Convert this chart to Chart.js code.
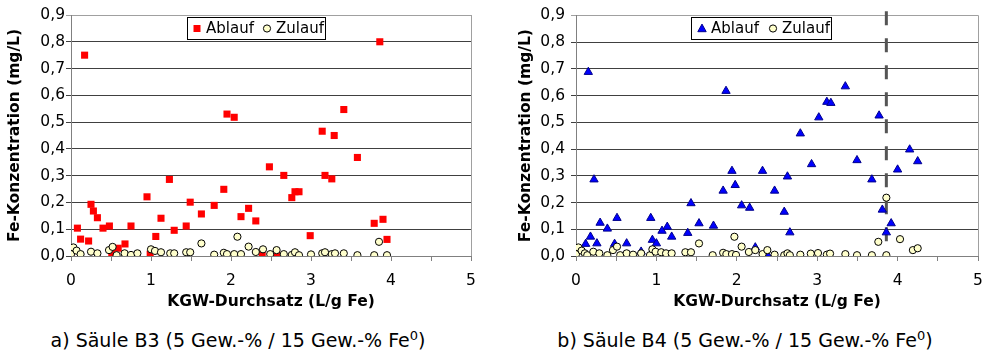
<!DOCTYPE html>
<html>
<head>
<meta charset="utf-8">
<script src="https://cdn.jsdelivr.net/npm/chart.js@4.4.0/dist/chart.umd.min.js"></script>
<style>
body { margin: 0; background: #fff; }
#wrap { position: relative; width: 989px; height: 358px; overflow: hidden; }
canvas { position: absolute; top: 0; }
.cap { position: absolute; top: 330px; font-family: "DejaVu Sans"; font-size: 19px; line-height: 20px; text-align: center; color: #000; white-space: nowrap; }
.cap sup { font-size: 13px; line-height: 0; vertical-align: 7px; }
</style>
</head>
<body>
<div id="wrap">
  <canvas id="chartB3" width="490" height="315" style="left:0"></canvas>
  <canvas id="chartB4" width="489" height="315" style="left:500px"></canvas>
  <div class="cap" style="left:0;width:476px">a) Säule B3 (5 Gew.-% / 15 Gew.-% Fe<sup>0</sup>)</div>
  <div class="cap" style="left:500px;width:490px">b) Säule B4 (5 Gew.-% / 15 Gew.-% Fe<sup>0</sup>)</div>
</div>
<script>
// tick labels
const yTickLabels = ['0,0', '0,1', '0,2', '0,3', '0,4', '0,5', '0,6', '0,7', '0,8', '0,9'];
const xTickLabels = ['0', '1', '2', '3', '4', '5'];
const xTitle = 'KGW-Durchsatz (L/g Fe)';
const yTitle = 'Fe-Konzentration (mg/L)';
const seriesNames = ['Ablauf', 'Zulauf'];

// Säule B3 - Ablauf
const b3AblaufX = [0, 0.08, 0.12, 0.17, 0.22, 0.25, 0.28, 0.33, 0.40, 0.48, 0.51, 0.59, 0.675, 0.75, 0.95, 0.99, 1.06, 1.125, 1.23, 1.29, 1.44, 1.49, 1.63, 1.79, 1.91, 1.95, 2.04, 2.125, 2.22, 2.31, 2.39, 2.48, 2.57, 2.66, 2.76, 2.80, 2.85, 2.99, 3.14, 3.175, 3.26, 3.29, 3.41, 3.58, 3.79, 3.86, 3.90, 3.95];
const b3AblaufY = [0, 0.104, 0.063, 0.75, 0.056, 0.193, 0.168, 0.143, 0.104, 0.112, 0.012, 0.029, 0.045, 0.112, 0.221, 0.007, 0.073, 0.141, 0.286, 0.096, 0.112, 0.201, 0.157, 0.189, 0.249, 0.53, 0.518, 0.147, 0.178, 0.131, 0.007, 0.333, 0.004, 0.301, 0.218, 0.24, 0.24, 0.076, 0.466, 0.301, 0.288, 0.45, 0.547, 0.368, 0.122, 0.80, 0.137, 0.062];
// Säule B3 - Zulauf
const b3ZulaufX = [0, 0.03, 0.07, 0.12, 0.25, 0.33, 0.475, 0.52, 0.57, 0.67, 0.75, 0.83, 1.0, 1.05, 1.125, 1.24, 1.29, 1.44, 1.49, 1.63, 1.79, 1.91, 1.95, 2.04, 2.08, 2.125, 2.22, 2.31, 2.40, 2.49, 2.57, 2.66, 2.76, 2.80, 2.85, 3.0, 3.14, 3.175, 3.26, 3.30, 3.41, 3.58, 3.79, 3.85, 3.95];
const b3ZulaufY = [0.007, 0.032, 0.02, 0.007, 0.016, 0.01, 0.022, 0.034, 0.003, 0.01, 0.004, 0.01, 0.025, 0.019, 0.014, 0.01, 0.01, 0.014, 0.014, 0.047, 0.005, 0.012, 0.007, 0.007, 0.072, 0.007, 0.035, 0.015, 0.025, 0.007, 0.022, 0.007, 0.004, 0.014, 0.003, 0.006, 0.01, 0.014, 0.007, 0.01, 0.01, 0.003, 0.003, 0.053, 0.003];

// Säule B4 - Ablauf
const b4AblaufX = [0, 0.12, 0.153, 0.18, 0.224, 0.26, 0.30, 0.39, 0.48, 0.51, 0.63, 0.81, 0.93, 0.95, 1.0, 1.07, 1.135, 1.19, 1.39, 1.43, 1.53, 1.71, 1.83, 1.866, 1.94, 1.98, 2.06, 2.16, 2.23, 2.32, 2.39, 2.47, 2.59, 2.63, 2.66, 2.79, 2.93, 3.02, 3.12, 3.17, 3.35, 3.495, 3.68, 3.77, 3.81, 3.86, 3.92, 4.0, 4.15, 4.25];
const b4AblaufY = [0, 0.045, 0.688, 0.072, 0.286, 0.047, 0.124, 0.102, 0.045, 0.142, 0.047, 0.016, 0.142, 0.06, 0.047, 0.094, 0.109, 0.072, 0.086, 0.197, 0.122, 0.113, 0.244, 0.617, 0.318, 0.265, 0.189, 0.18, 0.032, 0.318, 0.0, 0.244, 0.165, 0.297, 0.088, 0.458, 0.343, 0.518, 0.576, 0.572, 0.634, 0.358, 0.286, 0.525, 0.173, 0.088, 0.122, 0.323, 0.398, 0.354];
// Säule B4 - Zulauf
const b4ZulaufX = [0, 0.03, 0.07, 0.11, 0.14, 0.215, 0.29, 0.39, 0.46, 0.51, 0.55, 0.63, 0.71, 0.81, 0.92, 0.95, 0.99, 1.06, 1.12, 1.19, 1.36, 1.43, 1.53, 1.70, 1.83, 1.87, 1.94, 1.97, 1.99, 2.06, 2.15, 2.23, 2.32, 2.38, 2.47, 2.59, 2.63, 2.66, 2.79, 2.92, 3.01, 3.12, 3.16, 3.35, 3.495, 3.68, 3.76, 3.86, 3.86, 4.03, 4.19, 4.25];
const b4ZulaufY = [0.007, 0.032, 0.02, 0.01, 0.003, 0.016, 0.01, 0.003, 0.022, 0.035, 0.003, 0.01, 0.005, 0.01, 0.003, 0.025, 0.016, 0.014, 0.01, 0.01, 0.014, 0.014, 0.047, 0.003, 0.012, 0.007, 0.007, 0.072, 0.004, 0.035, 0.015, 0.022, 0.007, 0.022, 0.005, 0.003, 0.01, 0.003, 0.005, 0.009, 0.011, 0.005, 0.009, 0.007, 0.003, 0.003, 0.053, 0.218, 0.003, 0.063, 0.022, 0.029];

// vertical dashed marker in B4
const b4MarkerX = 3.86;
const b4MarkerY = [0.915, 0];

Chart.defaults.font.family = 'DejaVu Sans';
Chart.defaults.color = '#000';

function toPoints(xs, ys) {
    return xs.map((x, i) => ({ x: x, y: ys[i] }));
}

function drawMarker(ctx, style, x, y, r) {
    ctx.beginPath();
    if (style === 'rect') {
        ctx.rect(x - r, y - r, 2 * r, 2 * r);
        ctx.fill();
    } else if (style === 'triangle') {
        ctx.moveTo(x, y - r * 1.1);
        ctx.lineTo(x + r * 1.05, y + r * 0.8);
        ctx.lineTo(x - r * 1.05, y + r * 0.8);
        ctx.closePath();
        ctx.fill();
        ctx.stroke();
    } else {
        ctx.arc(x, y, r, 0, Math.PI * 2);
        ctx.fill();
        ctx.stroke();
    }
}

// legend in a framed box inside the plot, like the original
const boxLegend = {
    id: 'boxLegend',
    afterDatasetsDraw(chart, args, opts) {
        const ctx = chart.ctx;
        ctx.save();
        ctx.fillStyle = '#fff';
        ctx.fillRect(opts.x, opts.y, opts.w, opts.h);
        ctx.strokeStyle = '#000';
        ctx.lineWidth = 1;
        ctx.strokeRect(opts.x + 0.5, opts.y + 0.5, opts.w, opts.h);
        const cy = opts.y + opts.h / 2 + 0.5;
        ctx.font = '15px "DejaVu Sans"';
        ctx.textBaseline = 'middle';
        opts.items.forEach(function (item) {
            const ds = chart.data.datasets[item.ds];
            ctx.fillStyle = ds.backgroundColor;
            ctx.strokeStyle = ds.borderColor || ds.backgroundColor;
            ctx.lineWidth = 1;
            drawMarker(ctx, ds.pointStyle, item.mx, cy, item.r);
            ctx.fillStyle = '#000';
            ctx.fillText(ds.label, item.tx, cy + 1);
        });
        ctx.restore();
    }
};

// light frame at the right edge of the plot
const plotFrame = {
    id: 'plotFrame',
    beforeDatasetsDraw(chart) {
        const a = chart.chartArea;
        const ctx = chart.ctx;
        ctx.save();
        ctx.strokeStyle = '#a0a0a0';
        ctx.lineWidth = 1;
        ctx.beginPath();
        ctx.moveTo(Math.round(a.right) + 0.5, a.top);
        ctx.lineTo(Math.round(a.right) + 0.5, a.bottom);
        ctx.stroke();
        ctx.restore();
    }
};

function makeChart(id, datasets, cfg) {
    return new Chart(document.getElementById(id), {
        type: 'scatter',
        data: { datasets: datasets },
        plugins: [plotFrame, boxLegend],
        options: {
            responsive: false,
            animation: false,
            layout: { padding: { top: 15, right: cfg.padRight, left: 0, bottom: 0 } },
            plugins: {
                legend: { display: false },
                tooltip: { enabled: false },
                boxLegend: cfg.legend
            },
            scales: {
                x: {
                    type: 'linear',
                    min: 0,
                    max: 5,
                    afterFit: function (s) {
                        s.height = 59;
                        // keep the plot width fixed, labels fit in the padding anyway
                        s.paddingLeft = 0;
                        s.paddingRight = 0;
                    },
                    ticks: {
                        stepSize: 0.5,
                        autoSkip: false,
                        maxRotation: 0,
                        padding: 11,
                        font: { size: 15.5 },
                        callback: function (v) {
                            return Number.isInteger(v) ? xTickLabels[v] : '';
                        }
                    },
                    grid: { drawOnChartArea: false, tickLength: 5, color: '#808080' },
                    border: { color: '#808080', width: 1 },
                    title: {
                        display: true,
                        text: xTitle,
                        font: { size: 15.5, weight: 'bold' },
                        padding: { top: 2, bottom: 4 }
                    }
                },
                y: {
                    type: 'linear',
                    min: 0,
                    max: 0.9,
                    afterFit: function (s) { s.width = cfg.yWidth; },
                    ticks: {
                        stepSize: 0.1,
                        padding: cfg.tickPad,
                        font: { size: 15.5 },
                        callback: function (v) {
                            return yTickLabels[Math.round(v * 10)];
                        }
                    },
                    grid: {
                        tickLength: 5,
                        color: function (c) {
                            return c.tick && c.tick.value > 0.85 ? '#a0a0a0' : '#404040';
                        }
                    },
                    border: { color: '#808080', width: 1 },
                    title: {
                        display: true,
                        text: yTitle,
                        font: { size: 15.5, weight: 'bold' },
                        padding: { top: cfg.titlePad, bottom: 0 }
                    }
                }
            }
        }
    });
}

makeChart('chartB3', [
    {
        label: seriesNames[0],
        data: toPoints(b3AblaufX, b3AblaufY),
        pointStyle: 'rect',
        pointRadius: 5,
        backgroundColor: '#ff0000',
        borderColor: '#ff0000',
        borderWidth: 0,
        order: 2
    },
    {
        label: seriesNames[1],
        data: toPoints(b3ZulaufX, b3ZulaufY),
        pointStyle: 'circle',
        pointRadius: 3.6,
        backgroundColor: '#ffffcc',
        borderColor: '#000',
        borderWidth: 1,
        order: 1
    }
], {
    padRight: 19,
    yWidth: 71,
    tickPad: 1,
    titlePad: 6,
    legend: {
        x: 187, y: 17, w: 138, h: 22,
        items: [
            { ds: 0, mx: 197, tx: 206, r: 3.5 },
            { ds: 1, mx: 267, tx: 276, r: 3.6 }
        ]
    }
});

makeChart('chartB4', [
    {
        type: 'line',
        label: '',
        data: toPoints([b4MarkerX, b4MarkerX], b4MarkerY),
        borderColor: '#555555',
        borderWidth: 3,
        borderDash: [14, 13],
        pointRadius: 0,
        showLine: true,
        clip: false,
        order: 3
    },
    {
        label: seriesNames[0],
        data: toPoints(b4AblaufX, b4AblaufY),
        pointStyle: 'triangle',
        pointRadius: 4.8,
        backgroundColor: '#0000ff',
        borderColor: '#00008b',
        borderWidth: 1,
        order: 2
    },
    {
        label: seriesNames[1],
        data: toPoints(b4ZulaufX, b4ZulaufY),
        pointStyle: 'circle',
        pointRadius: 3.6,
        backgroundColor: '#ffffcc',
        borderColor: '#000',
        borderWidth: 1,
        order: 1
    }
], {
    padRight: 11,
    yWidth: 76,
    tickPad: 6,
    titlePad: 17,
    legend: {
        x: 191, y: 17, w: 140, h: 22,
        items: [
            { ds: 1, mx: 202, tx: 211, r: 4 },
            { ds: 2, mx: 273, tx: 282, r: 3.6 }
        ]
    }
});
</script>
</body>
</html>
